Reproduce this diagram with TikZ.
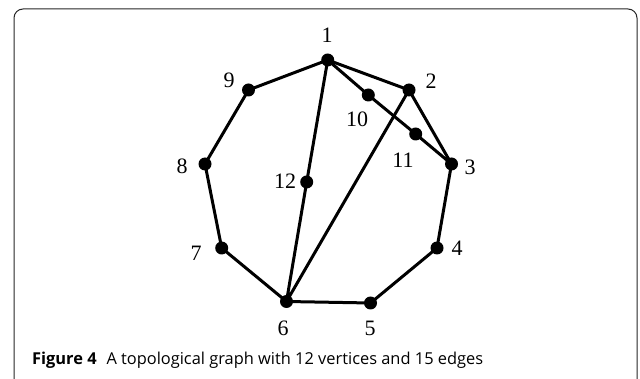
\documentclass[tikz,border=0pt]{standalone}
\usepackage{fontspec}
\setmainfont{Liberation Serif}
\newfontfamily\capfont{Open Sans}
\begin{document}
\begin{tikzpicture}[x=1pt,y=-1pt,
  vtx/.style={circle,fill=black,inner sep=0pt,minimum size=13pt},
  lbl/.style={inner sep=0pt,font=\fontsize{22}{22}\selectfont},
  edge/.style={line width=3pt,line cap=round,line join=round}]
\useasboundingbox (0,0) rectangle (640,379);
\begin{scope}
\clip (0,0) rectangle (640,379);
\draw[line width=1pt,rounded corners=9pt,black!85] (14,9) rectangle (637,392);
\end{scope}
% vertices
\coordinate (p1) at (327.7,60);
\coordinate (p2) at (409,90);
\coordinate (p3) at (451.5,164);
\coordinate (p4) at (437,248);
\coordinate (p5) at (370.5,303);
\coordinate (p6) at (286.5,301.5);
\coordinate (p7) at (221.7,248);
\coordinate (p8) at (205,164);
\coordinate (p9) at (248.5,90);
\coordinate (p10) at (368.3,95);
\coordinate (p11) at (415.7,134);
\coordinate (p12) at (306.7,182);
% edges
\draw[edge] (p1) -- (p9) -- (p8) -- (p7) -- (p6) -- (p5) -- (p4) -- (p3) -- (p2) -- (p1);
\draw[edge] (p1) -- (p10) -- (p11) -- (p3);
\draw[edge] (p1) -- (p12) -- (p6) -- (p2);
\foreach \i in {1,...,12} \node[vtx] (v\i) at (p\i) {};
% labels
\node[lbl] (l1) at (327,35) {1};
\node[lbl] (l2) at (431,81) {2};
\node[lbl] (l3) at (470,167) {3};
\node[lbl] (l4) at (457,248) {4};
\node[lbl] (l5) at (370,328) {5};
\node[lbl] (l6) at (283,328) {6};
\node[lbl] (l7) at (196,253) {7};
\node[lbl] (l8) at (182,166) {8};
\node[lbl] (l9) at (229,80) {9};
\node[lbl] (l10) at (357,119) {10};
\node[lbl] (l11) at (403,160) {11};
\node[lbl] (l12) at (285,181) {12};
% caption
\node[anchor=base west,inner sep=0pt,font=\capfont\fontsize{16.4}{16.4}\selectfont] (cap) at (32,364) {\textbf{Figure 4}\hspace{0.6em}A topological graph with 12 vertices and 15 edges};
\end{tikzpicture}
\end{document}
